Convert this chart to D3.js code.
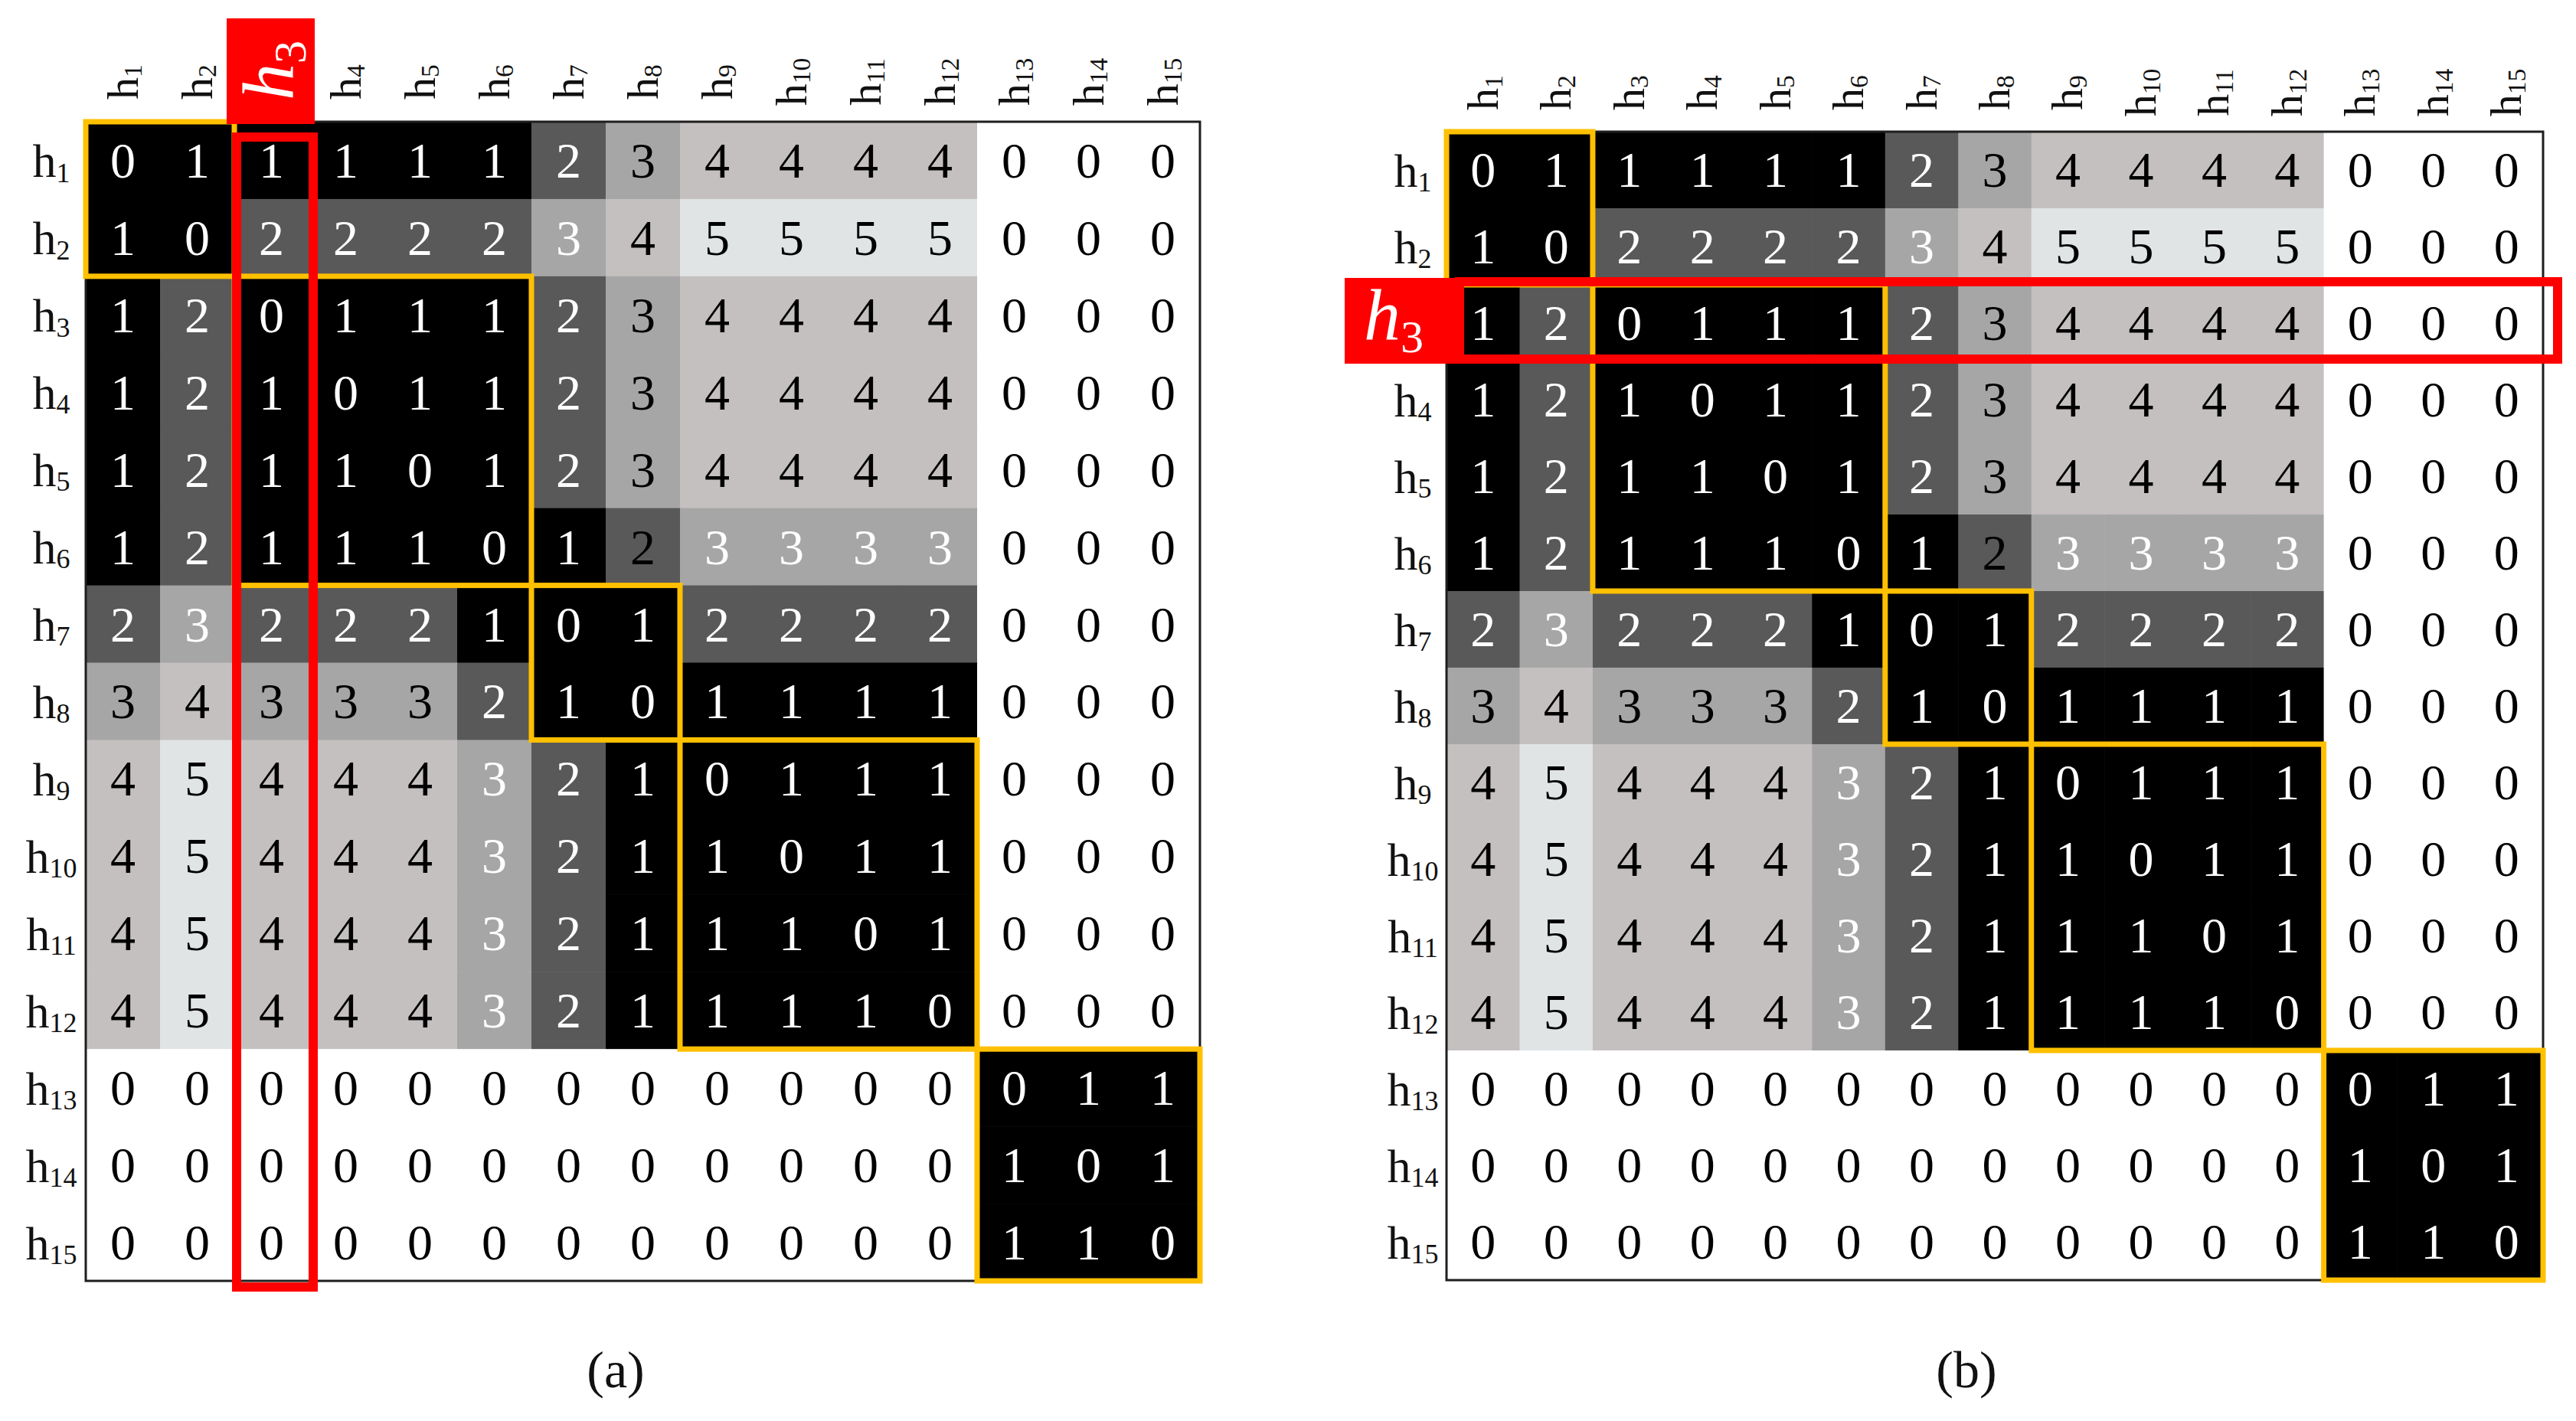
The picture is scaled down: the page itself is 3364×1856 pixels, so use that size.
<!DOCTYPE html>
<html>
<head>
<meta charset="utf-8">
<script src="https://cdn.jsdelivr.net/npm/d3@7"></script>
<style>
  body { margin: 0; background: #fff; }
  svg { display: block; }
</style>
</head>
<body>
<svg width="3364" height="1856"></svg>
<script>
// nodes h1..h15 (row and column labels)
const nodes = ["h1", "h2", "h3", "h4", "h5", "h6", "h7", "h8", "h9", "h10", "h11", "h12", "h13", "h14", "h15"];

// distance matrix, same in both panels
const dist = [
    [0, 1, 1, 1, 1, 1, 2, 3, 4, 4, 4, 4, 0, 0, 0],
    [1, 0, 2, 2, 2, 2, 3, 4, 5, 5, 5, 5, 0, 0, 0],
    [1, 2, 0, 1, 1, 1, 2, 3, 4, 4, 4, 4, 0, 0, 0],
    [1, 2, 1, 0, 1, 1, 2, 3, 4, 4, 4, 4, 0, 0, 0],
    [1, 2, 1, 1, 0, 1, 2, 3, 4, 4, 4, 4, 0, 0, 0],
    [1, 2, 1, 1, 1, 0, 1, 2, 3, 3, 3, 3, 0, 0, 0],
    [2, 3, 2, 2, 2, 1, 0, 1, 2, 2, 2, 2, 0, 0, 0],
    [3, 4, 3, 3, 3, 2, 1, 0, 1, 1, 1, 1, 0, 0, 0],
    [4, 5, 4, 4, 4, 3, 2, 1, 0, 1, 1, 1, 0, 0, 0],
    [4, 5, 4, 4, 4, 3, 2, 1, 1, 0, 1, 1, 0, 0, 0],
    [4, 5, 4, 4, 4, 3, 2, 1, 1, 1, 0, 1, 0, 0, 0],
    [4, 5, 4, 4, 4, 3, 2, 1, 1, 1, 1, 0, 0, 0, 0],
    [0, 0, 0, 0, 0, 0, 0, 0, 0, 0, 0, 0, 0, 1, 1],
    [0, 0, 0, 0, 0, 0, 0, 0, 0, 0, 0, 0, 1, 0, 1],
    [0, 0, 0, 0, 0, 0, 0, 0, 0, 0, 0, 0, 1, 1, 0]
];

// clusters (yellow boxes)
const clusters = [
    ["h1", "h2"],
    ["h3", "h4", "h5", "h6"],
    ["h7", "h8"],
    ["h9", "h10", "h11", "h12"],
    ["h13", "h14", "h15"]
];

// cells whose number is printed in dark ink on a grey cell [row, col]
const darkInk = [["h1", "h8"], ["h3", "h8"], ["h4", "h8"], ["h5", "h8"], ["h6", "h8"],
                 ["h8", "h1"], ["h8", "h3"], ["h8", "h4"], ["h8", "h5"]];

const focus = "h3";
const captions = ["(a)", "(b)"];

const svg = d3.select("svg");
const font = "'Liberation Serif', 'DejaVu Serif', serif";

const shade = d3.scaleOrdinal()
    .domain([1, 2, 3, 4, 5])
    .range(["#000000", "#595959", "#a6a6a6", "#c4c0bf", "#e0e4e5"]);

const panels = [
    {x0: 112, x1: 1567, y0: 159, y1: 1673, colLabelY: 107, rowLabelX: 67, mode: "col", capX: 804},
    {x0: 1889, x1: 3321, y0: 172, y1: 1672, colLabelY: 121, rowLabelX: 1845, mode: "row", capX: 2568}
];

function isDark(r, c) {
    return darkInk.some(p => p[0] === r && p[1] === c);
}

function label(sel, name, size) {
    sel.append("tspan").text(name.slice(0, 1));
    sel.append("tspan")
        .attr("font-size", size * 0.58)
        .attr("dy", size * 0.1)
        .text(name.slice(1));
}

panels.forEach((p, k) => {
    const g = svg.append("g");
    const x = d3.scaleBand().domain(nodes).range([p.x0, p.x1]);
    const y = d3.scaleBand().domain(nodes).range([p.y0, p.y1]);
    const bw = x.bandwidth(), bh = y.bandwidth();

    const cells = [];
    dist.forEach((row, i) => row.forEach((v, j) => {
        cells.push({r: nodes[i], c: nodes[j], diag: i === j, v: v});
    }));

    // cells
    g.selectAll(".cell")
        .data(cells)
        .enter().append("rect")
        .attr("class", "cell")
        .attr("x", d => x(d.c))
        .attr("y", d => y(d.r))
        .attr("width", bw + 0.6)
        .attr("height", bh + 0.6)
        .attr("fill", d => d.v === 0 ? (d.diag ? "#000" : "#fff") : shade(d.v));

    // numbers
    g.selectAll(".val")
        .data(cells)
        .enter().append("text")
        .attr("class", "val")
        .attr("x", d => x(d.c) + bw / 2)
        .attr("y", d => y(d.r) + bh / 2)
        .attr("dy", "0.34em")
        .attr("text-anchor", "middle")
        .attr("font-family", font)
        .attr("font-size", 66)
        .attr("fill", d => {
            if (isDark(d.r, d.c)) return "#000";
            if (d.v === 0) return d.diag ? "#fff" : "#000";
            return d.v <= 3 ? "#fff" : "#000";
        })
        .text(d => d.v);

    // outer frame
    g.append("rect")
        .attr("x", p.x0).attr("y", p.y0)
        .attr("width", p.x1 - p.x0).attr("height", p.y1 - p.y0)
        .attr("fill", "none")
        .attr("stroke", "#1e1e1e")
        .attr("stroke-width", 3);

    // cluster boxes
    g.selectAll(".cluster")
        .data(clusters)
        .enter().append("rect")
        .attr("class", "cluster")
        .attr("x", d => x(d[0]))
        .attr("y", d => y(d[0]))
        .attr("width", d => bw * d.length)
        .attr("height", d => bh * d.length)
        .attr("fill", "none")
        .attr("stroke", "#ffc000")
        .attr("stroke-width", 7);

    // column labels, turned to read upwards
    g.selectAll(".colLab")
        .data(nodes.filter(n => !(p.mode === "col" && n === focus)))
        .enter().append("g")
        .attr("class", "colLab")
        .attr("transform", d => `translate(${x(d) + bw / 2 + 19},${p.colLabelY})`)
        .append("text")
        .attr("transform", "rotate(-90)")
        .attr("text-anchor", "middle")
        .attr("font-family", font)
        .attr("font-size", 58)
        .attr("fill", "#111")
        .each(function (d) { label(d3.select(this), d, 58); });

    // row labels
    g.selectAll(".rowLab")
        .data(nodes.filter(n => !(p.mode === "row" && n === focus)))
        .enter().append("text")
        .attr("class", "rowLab")
        .attr("x", p.rowLabelX)
        .attr("y", d => y(d) + bh / 2 + 22)
        .attr("text-anchor", "middle")
        .attr("font-family", font)
        .attr("font-size", 62)
        .attr("fill", "#111")
        .each(function (d) { label(d3.select(this), d, 62); });

    // red highlight of h3
    const red = "#ff0000";
    let tag;
    if (p.mode === "col") {
        g.append("rect")
            .attr("x", x(focus) + 3).attr("y", p.y0 + 20)
            .attr("width", bw + 3).attr("height", p.y1 - p.y0 - 12)
            .attr("fill", "none").attr("stroke", red).attr("stroke-width", 12);
        g.append("rect")
            .attr("x", x(focus) - 10).attr("y", 24)
            .attr("width", bw + 18).attr("height", p.y0 + 3 - 24)
            .attr("fill", red);
        tag = g.append("g")
            .attr("transform", `translate(${x(focus) + bw / 2 + 28},92)`)
            .append("text")
            .attr("transform", "rotate(-90)");
    } else {
        g.append("rect")
            .attr("x", p.x0 + 17).attr("y", y(focus) - 4)
            .attr("width", p.x1 - p.x0 + 2).attr("height", bh + 1)
            .attr("fill", "none").attr("stroke", red).attr("stroke-width", 12);
        g.append("rect")
            .attr("x", 1756).attr("y", y(focus) - 9)
            .attr("width", p.x0 + 11 - 1756).attr("height", bh + 12)
            .attr("fill", red);
        tag = g.append("text")
            .attr("x", 1820)
            .attr("y", y(focus) + bh / 2 + 22);
    }
    tag.attr("text-anchor", "middle")
        .attr("font-family", font)
        .attr("font-size", 96)
        .attr("fill", "#fff");
    tag.append("tspan").attr("font-style", "italic").text("h");
    tag.append("tspan").attr("font-size", 60).attr("dy", 16).text("3");

    // caption
    svg.append("text")
        .attr("x", p.capX)
        .attr("y", 1812)
        .attr("text-anchor", "middle")
        .attr("font-family", font)
        .attr("font-size", 68)
        .attr("fill", "#111")
        .text(captions[k]);
});
</script>
</body>
</html>
